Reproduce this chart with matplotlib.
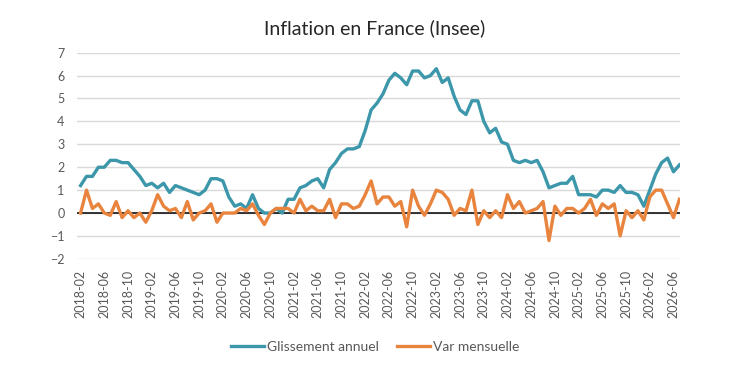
import matplotlib
matplotlib.use("Agg")
import matplotlib.pyplot as plt
import pandas as pd

plt.rcParams['font.family'] = ['Lato', 'DejaVu Sans']

# Inflation en France (Insee), mensuel de 2018-02 à 2026-07
mois = pd.period_range("2018-02", periods=102, freq="M").strftime("%Y-%m").tolist()

glissement_annuel = [
    1.2, 1.6, 1.6, 2.0, 2.0, 2.3, 2.3, 2.2, 2.2, 1.9, 1.6,        # 2018
    1.2, 1.3, 1.1, 1.3, 0.9, 1.2, 1.1, 1.0, 0.9, 0.8, 1.0, 1.5,   # 2019
    1.5, 1.4, 0.7, 0.3, 0.4, 0.2, 0.8, 0.2, 0.0, 0.0, 0.2, 0.0,   # 2020
    0.6, 0.6, 1.1, 1.2, 1.4, 1.5, 1.1, 1.9, 2.2, 2.6, 2.8, 2.8,   # 2021
    2.9, 3.6, 4.5, 4.8, 5.2, 5.8, 6.1, 5.9, 5.6, 6.2, 6.2, 5.9,   # 2022
    6.0, 6.3, 5.7, 5.9, 5.1, 4.5, 4.3, 4.9, 4.9, 4.0, 3.5, 3.7,   # 2023
    3.1, 3.0, 2.3, 2.2, 2.3, 2.2, 2.3, 1.8, 1.1, 1.2, 1.3, 1.3,   # 2024
    1.6, 0.8, 0.8, 0.8, 0.7, 1.0, 1.0, 0.9, 1.2, 0.9, 0.9, 0.8,   # 2025
    0.3, 1.0, 1.7, 2.2, 2.4, 1.8, 2.1,                            # 2026
]

var_mensuelle = [
    0.0, 1.0, 0.2, 0.4, 0.0, -0.1, 0.5, -0.2, 0.1, -0.2, 0.0,           # 2018
    -0.4, 0.1, 0.8, 0.3, 0.1, 0.2, -0.2, 0.5, -0.3, 0.0, 0.1, 0.4,      # 2019
    -0.4, 0.0, 0.0, 0.0, 0.2, 0.1, 0.4, -0.1, -0.5, 0.0, 0.2, 0.2,      # 2020
    0.2, 0.0, 0.6, 0.1, 0.3, 0.1, 0.1, 0.6, -0.2, 0.4, 0.4, 0.2,        # 2021
    0.3, 0.8, 1.4, 0.4, 0.7, 0.7, 0.3, 0.5, -0.6, 1.0, 0.3, -0.1,       # 2022
    0.4, 1.0, 0.9, 0.6, -0.1, 0.2, 0.1, 1.0, -0.5, 0.1, -0.2, 0.1,      # 2023
    -0.2, 0.8, 0.2, 0.5, 0.0, 0.1, 0.2, 0.5, -1.2, 0.3, -0.1, 0.2,      # 2024
    0.2, 0.0, 0.2, 0.6, -0.1, 0.4, 0.2, 0.4, -1.0, 0.1, -0.2, 0.1,      # 2025
    -0.3, 0.7, 1.0, 1.0, 0.4, -0.2, 0.6,                                # 2026
]

y_ticks = list(range(-2, 8))

BLEU = '#3C97AB'
ORANGE = '#E8843D'
GRIS = '#595959'

fig = plt.figure(figsize=(7.5, 3.79), dpi=100)
ax = fig.add_axes([0.1027, 0.317, 0.804, 0.544])

x = list(range(len(mois)))
ax.plot(x, glissement_annuel, color=BLEU, lw=2.4, label='Glissement annuel',
        solid_joinstyle='round', zorder=3)
ax.plot(x, var_mensuelle, color=ORANGE, lw=2.4, label='Var mensuelle',
        solid_joinstyle='round', zorder=4)

ax.set_xlim(-0.6, len(mois) - 0.9)
ax.set_ylim(-2, 7)
ax.set_yticks(y_ticks)
ax.grid(axis='y', color='#d9d9d9', lw=1)
ax.axhline(0, color='black', lw=1.1, zorder=2)
ax.set_axisbelow(True)
for s in ax.spines.values():
    s.set_visible(False)

ax.set_xticks(x[::4])
ax.set_xticklabels(mois[::4], rotation=90)
ax.tick_params(axis='both', length=0, labelsize=9, labelcolor=GRIS)
ax.tick_params(axis='y', pad=9)
ax.tick_params(axis='x', pad=8)

fig.suptitle('Inflation en France (Insee)', x=0.5, y=0.95, fontsize=14, color='#262626')

fig.legend(loc='center', bbox_to_anchor=(0.5, 0.085), ncol=2, frameon=False,
           fontsize=10, handlelength=2.4, handletextpad=0.2, columnspacing=1.3,
           labelcolor=GRIS)

fig.savefig('out.png', dpi=100)
